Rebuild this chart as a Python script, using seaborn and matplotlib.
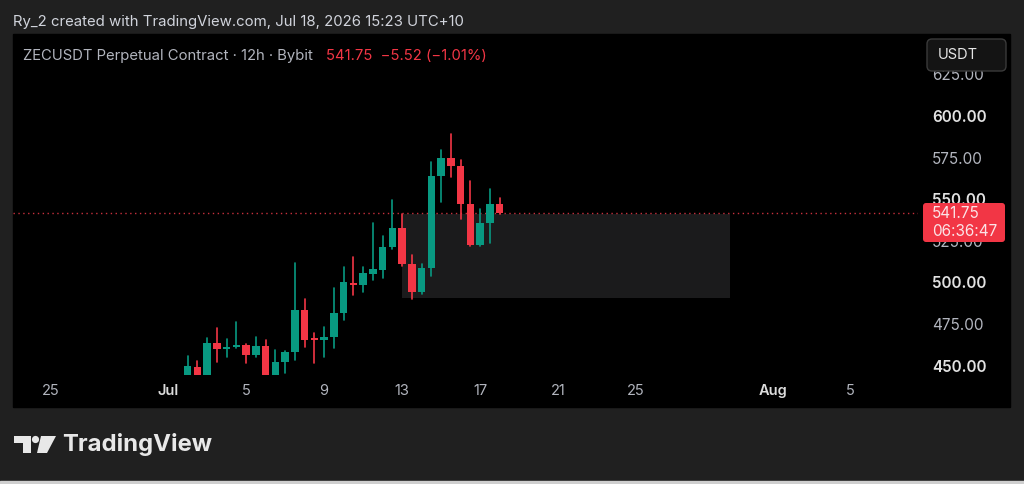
import numpy as np
import pandas as pd
import matplotlib
matplotlib.use("Agg")
import matplotlib.pyplot as plt
import matplotlib.dates as mdates
from matplotlib.patches import Rectangle, FancyBboxPatch, Circle, Polygon
import seaborn as sns

# ZECUSDT perpetual, Bybit, 12h candles
candle_times = pd.date_range("2026-07-02 00:00", periods=33, freq="12h")
opens = [444.0, 449.5, 443.5, 463.6, 460.0, 461.2, 462.4, 456.4, 461.8, 443.0,
         452.2, 458.2, 483.4, 466.6, 465.4, 467.2, 481.6, 499.6, 498.4, 505.0,
         507.5, 521.3, 532.7, 511.1, 494.2, 508.7, 563.9, 574.8, 570.0, 547.1,
         522.5, 535.7, 547.27]
highs = [455.8, 452.8, 466.6, 472.6, 466.0, 476.2, 463.2, 467.2, 465.4, 459.4,
         458.8, 511.7, 490.0, 469.6, 473.2, 496.6, 509.3, 515.3, 509.3, 535.7,
         527.9, 549.5, 541.1, 516.5, 511.1, 572.4, 579.6, 589.2, 573.6, 560.9,
         544.1, 556.1, 550.7]
lows = [441.0, 440.5, 441.5, 452.2, 455.2, 460.5, 451.6, 455.0, 440.0, 441.0,
        445.6, 453.4, 461.2, 451.6, 455.2, 460.6, 477.4, 492.4, 494.2, 501.4,
        502.6, 520.1, 509.9, 490.0, 493.0, 503.8, 548.3, 563.3, 538.1, 522.0,
        522.0, 523.7, 541.0]
closes = [449.8, 443.5, 463.6, 460.0, 461.2, 462.4, 456.4, 461.8, 443.0, 452.2,
          458.2, 483.4, 465.4, 465.4, 467.2, 481.6, 500.2, 498.4, 505.6, 508.1,
          521.3, 532.7, 511.1, 494.2, 508.7, 563.9, 574.8, 570.0, 547.1, 522.5,
          535.7, 547.27, 541.75]

last_price = 541.75
zone_start, zone_end = "2026-07-13 00:00", "2026-07-29 20:00"
zone_low, zone_high = 490.6, 541.0

price_ticks = [450, 475, 500, 525, 550, 575, 600, 625]
date_ticks = ["2026-06-25", "2026-07-01", "2026-07-05", "2026-07-09", "2026-07-13",
              "2026-07-17", "2026-07-21", "2026-07-25", "2026-08-01", "2026-08-05"]
date_labels = ["25", "Jul", "5", "9", "13", "17", "21", "25", "Aug", "5"]

UP, DOWN = "#089981", "#f23645"
TXT = "#b2b5be"

sns.set_theme(style="dark", rc={"axes.facecolor": "none", "figure.facecolor": "#202020",
                                "axes.grid": False})
plt.rcParams["font.family"] = ["Inter", "DejaVu Sans"]

fig = plt.figure(figsize=(10.24, 4.84), dpi=100)

# background layer in pixel coords
bg = fig.add_axes([0, 0, 1, 1], zorder=-1)
bg.set_xlim(0, 1024)
bg.set_ylim(484, 0)
bg.axis("off")
bg.add_patch(Rectangle((13, 34), 997, 373, color="black"))
bg.add_patch(Rectangle((0, 481), 1024, 3, color="#cfcfcf"))
bg.text(13, 22, "Ry_2 created with TradingView.com, Jul 18, 2026 15:23 UTC+10",
        color="#d1d4dc", fontsize=10.75, va="center")
bg.text(23, 56, "ZECUSDT Perpetual Contract · 12h · Bybit", color=TXT, fontsize=10.7, va="center")
bg.text(326, 56, "541.75  \u22125.52 (\u22121.01%)", color=DOWN, fontsize=10.7, va="center")
# TradingView logo
bg.add_patch(Polygon([(14, 436), (31, 436), (31, 453), (23, 453), (23, 443), (14, 443)],
                     color="#e8e8e8", lw=0))
bg.add_patch(Circle((35.5, 439.5), 3.6, color="#e8e8e8", lw=0))
bg.add_patch(Polygon([(41, 436), (56, 436), (47, 453), (37, 453)], color="#e8e8e8", lw=0))
bg.text(62, 445, "TradingView", color="#e8e8e8", fontsize=17.2, fontweight="bold", va="center")

# main chart
ax = fig.add_axes([13 / 1024, (484 - 375) / 484, 905 / 1024, 341 / 484], zorder=1)
t = mdates.date2num(candle_times.to_pydatetime())
o, h, l, c = map(np.array, (opens, highs, lows, closes))
direction = np.where(c >= o, "up", "down")

t0, t1 = mdates.date2num(pd.to_datetime([zone_start, zone_end]).to_pydatetime())
ax.add_patch(Rectangle((t0, zone_low), t1 - t0, zone_high - zone_low, color="#1b1b1c",
                       lw=0, zorder=1))
ax.axhline(last_price, color="#c8303d", ls=(0, (1, 2.5)), lw=1, zorder=2)

wicks = pd.DataFrame({
    "t": np.repeat(t, 2),
    "price": np.column_stack([l, h]).ravel(),
    "candle": np.repeat(np.arange(len(t)), 2),
    "dir": np.repeat(direction, 2),
})
sns.lineplot(data=wicks, x="t", y="price", units="candle", hue="dir", estimator=None,
             sort=False, palette={"up": UP, "down": DOWN}, legend=False, linewidth=1.2,
             ax=ax, zorder=3)
body_lo = np.minimum(o, c)
body_h = np.maximum(np.abs(c - o), 0.9)
ax.bar(t, body_h, bottom=body_lo, width=0.385, color=np.where(c >= o, UP, DOWN),
       lw=0, zorder=4)

tj13 = mdates.date2num(pd.Timestamp("2026-07-13").to_pydatetime())
ax.set_xlim(tj13 - 19.95, tj13 + 26.46)
ax.set_ylim(444.4, 649.3)
ax.set_xlabel("")
ax.set_ylabel("")
for s in ax.spines.values():
    s.set_visible(False)

ax.yaxis.tick_right()
ax.set_yticks(price_ticks, [f"{v:.2f}" for v in price_ticks])
ax.set_xticks(mdates.date2num(pd.to_datetime(date_ticks).to_pydatetime()), date_labels)
ax.tick_params(axis="y", length=0, pad=10, labelsize=11)
ax.tick_params(axis="x", length=0, pad=6.5, labelsize=10.5)
for v, lab in zip(price_ticks, ax.get_yticklabels()):
    bold = v % 50 == 0
    lab.set_color("#e2e2e2" if bold else TXT)
    lab.set_fontweight("semibold" if bold else "normal")
for lab in ax.get_xticklabels():
    big = lab.get_text() in ("Jul", "Aug")
    lab.set_color("#dcdcdc" if big else TXT)
    lab.set_fontweight("semibold" if big else "normal")

# overlay: price tag and currency button
fg = fig.add_axes([0, 0, 1, 1], zorder=3)
fg.set_xlim(0, 1024)
fg.set_ylim(484, 0)
fg.axis("off")
fg.patch.set_alpha(0)
fg.add_patch(FancyBboxPatch((923, 203), 82, 39, boxstyle="round,pad=0,rounding_size=3",
                            fc=DOWN, ec="none"))
fg.text(932, 213.5, "541.75", color="#fbe3e6", fontsize=11, va="center")
fg.text(932, 232, "06:36:47", color="#fbe3e6", fontsize=11, va="center")
fg.add_patch(FancyBboxPatch((927, 39), 79, 32, boxstyle="round,pad=0,rounding_size=5",
                            fc="#141414", ec="#3a3a3a", lw=1))
fg.text(938, 55, "USDT", color="#e6e6e6", fontsize=10.5, va="center")

fig.savefig("out.png", dpi=100)
